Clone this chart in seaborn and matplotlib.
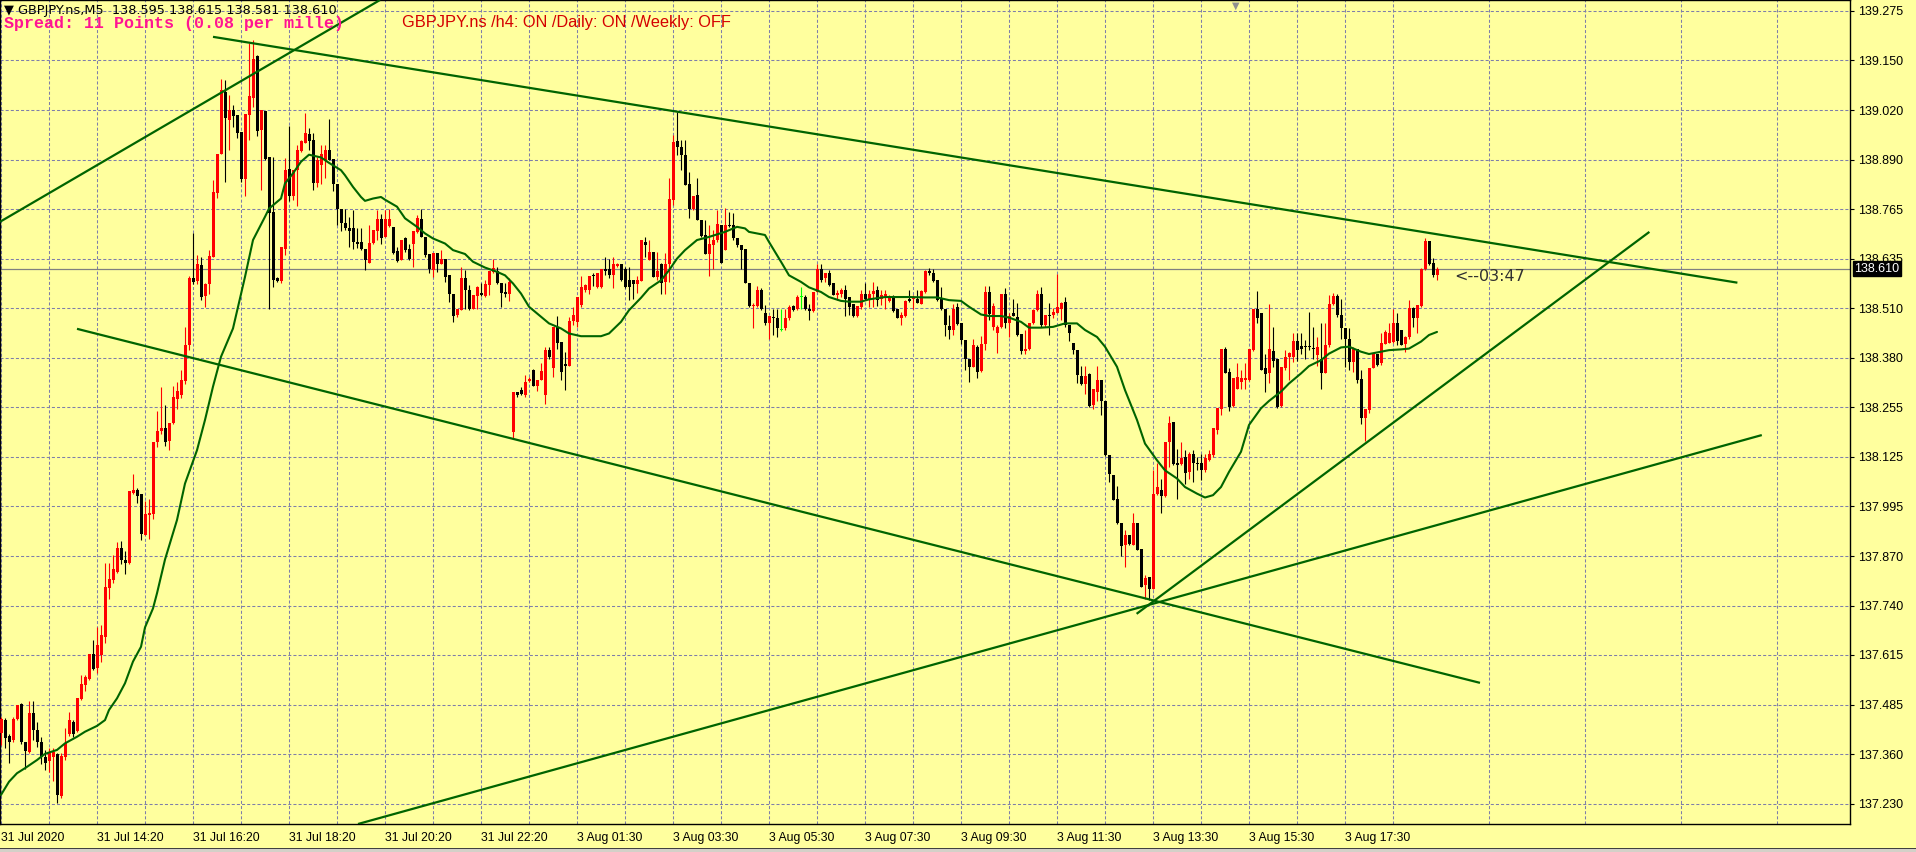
import matplotlib
matplotlib.use("Agg")
import matplotlib.pyplot as plt
from matplotlib.patches import Rectangle
import seaborn as sns
import pandas as pd
import numpy as np

# GBPJPY M5 candles (index 0 = 31 Jul 12:20)
opens = [
    137.412, 137.446, 137.405, 137.395, 137.450, 137.487, 137.390, 137.364, 137.463, 137.420,
    137.390, 137.350, 137.341, 137.352, 137.358, 137.250, 137.350, 137.410, 137.442, 137.419,
    137.500, 137.537, 137.553, 137.616, 137.580, 137.614, 137.659, 137.786, 137.807, 137.829,
    137.889, 137.860, 137.850, 138.032, 138.039, 138.028, 137.924, 137.974, 137.977, 138.162,
    138.192, 138.199, 138.166, 138.213, 138.273, 138.284, 138.321, 138.413, 138.587, 138.578,
    138.619, 138.540, 138.570, 138.641, 138.806, 138.907, 139.066, 138.993, 139.019, 139.006,
    138.963, 138.842, 139.006, 139.050, 139.158, 138.967, 139.017, 138.899, 138.757, 138.585,
    138.579, 138.662, 138.866, 138.798, 138.864, 138.914, 138.935, 138.957, 138.942, 138.830,
    138.877, 138.890, 138.916, 138.892, 138.828, 138.764, 138.728, 138.714, 138.714, 138.679,
    138.678, 138.662, 138.625, 138.677, 138.708, 138.739, 138.692, 138.720, 138.718, 138.656,
    138.632, 138.688, 138.662, 138.675, 138.705, 138.737, 138.692, 138.649, 138.606, 138.651,
    138.623, 138.635, 138.593, 138.546, 138.490, 138.503, 138.585, 138.556, 138.507, 138.539,
    138.548, 138.539, 138.568, 138.602, 138.605, 138.574, 138.550, 138.546, 138.189, 138.292,
    138.297, 138.284, 138.321, 138.348, 138.307, 138.324, 138.285, 138.400, 138.353, 138.460,
    138.421, 138.363, 138.358, 138.475, 138.473, 138.516, 138.555, 138.555, 138.595, 138.563,
    138.563, 138.608, 138.608, 138.593, 138.617, 138.622, 138.608, 138.580, 138.582, 138.570,
    138.579, 138.679, 138.632, 138.654, 138.589, 138.622, 138.576, 138.622, 138.787, 138.939,
    138.923, 138.903, 138.828, 138.763, 138.800, 138.735, 138.697, 138.649, 138.671, 138.684,
    138.722, 138.659, 138.724, 138.722, 138.688, 138.671, 138.662, 138.572, 138.513, 138.513,
    138.555, 138.496, 138.469, 138.486, 138.482, 138.453, 138.456, 138.482, 138.513, 138.505,
    138.536, 138.537, 138.507, 138.501, 138.550, 138.608, 138.585, 138.598, 138.572, 138.542,
    138.546, 138.555, 138.536, 138.520, 138.488, 138.512, 138.546, 138.531, 138.546, 138.555,
    138.531, 138.539, 138.527, 138.537, 138.505, 138.484, 138.488, 138.531, 138.531, 138.531,
    138.520, 138.550, 138.605, 138.598, 138.580, 138.531, 138.505, 138.462, 138.453, 138.510,
    138.470, 138.426, 138.378, 138.357, 138.408, 138.346, 138.417, 138.550, 138.460, 138.445,
    138.460, 138.546, 138.469, 138.496, 138.486, 138.441, 138.398, 138.404, 138.469, 138.503,
    138.545, 138.465, 138.490, 138.490, 138.495, 138.507, 138.525, 138.465, 138.419, 138.400,
    138.333, 138.312, 138.338, 138.258, 138.293, 138.323, 138.269, 138.129, 138.078, 138.017,
    137.953, 137.897, 137.923, 137.897, 137.953, 137.887, 137.794, 137.815, 137.785, 138.030,
    138.039, 138.023, 138.164, 138.215, 138.109, 138.106, 138.125, 138.086, 138.133, 138.109,
    138.108, 138.092, 138.116, 138.129, 138.194, 138.247, 138.404, 138.344, 138.256, 138.301,
    138.319, 138.323, 138.323, 138.400, 138.505, 138.495, 138.355, 138.340, 138.398, 138.378,
    138.256, 138.353, 138.383, 138.383, 138.424, 138.410, 138.410, 138.409, 138.404, 138.387,
    138.378, 138.342, 138.413, 138.519, 138.539, 138.490, 138.456, 138.430, 138.370, 138.402,
    138.325, 138.224, 138.245, 138.355, 138.390, 138.366, 138.417, 138.419, 138.422, 138.469,
    138.452, 138.417, 138.433, 138.508, 138.482, 138.514, 138.608, 138.682, 138.624, 138.595,
]
highs = [
    137.455, 137.452, 137.410, 137.455, 137.485, 137.490, 137.390, 137.495, 137.495, 137.440,
    137.403, 137.370, 137.373, 137.373, 137.360, 137.360, 137.425, 137.467, 137.446, 137.504,
    137.563, 137.563, 137.616, 137.653, 137.687, 137.690, 137.852, 137.852, 137.872, 137.906,
    137.908, 137.883, 138.037, 138.080, 138.044, 138.028, 138.012, 138.015, 138.164, 138.244,
    138.306, 138.258, 138.213, 138.308, 138.319, 138.349, 138.460, 138.590, 138.703, 138.645,
    138.640, 138.572, 138.658, 138.840, 138.907, 139.100, 139.096, 139.058, 139.032, 139.006,
    138.963, 139.009, 139.191, 139.199, 139.161, 139.019, 139.017, 138.899, 138.899, 138.588,
    138.665, 138.895, 138.978, 138.864, 138.929, 138.942, 139.012, 138.974, 138.959, 138.898,
    138.929, 138.929, 138.995, 138.892, 138.828, 138.764, 138.763, 138.744, 138.761, 138.714,
    138.715, 138.662, 138.722, 138.711, 138.761, 138.752, 138.761, 138.765, 138.718, 138.666,
    138.684, 138.692, 138.675, 138.708, 138.748, 138.763, 138.692, 138.649, 138.651, 138.651,
    138.658, 138.635, 138.593, 138.546, 138.507, 138.615, 138.606, 138.567, 138.542, 138.565,
    138.572, 138.580, 138.605, 138.634, 138.615, 138.574, 138.572, 138.585, 138.292, 138.292,
    138.305, 138.335, 138.331, 138.352, 138.324, 138.367, 138.408, 138.408, 138.460, 138.488,
    138.421, 138.395, 138.486, 138.512, 138.537, 138.591, 138.570, 138.591, 138.598, 138.598,
    138.608, 138.641, 138.634, 138.641, 138.625, 138.622, 138.615, 138.615, 138.582, 138.591,
    138.684, 138.692, 138.684, 138.654, 138.654, 138.625, 138.651, 138.843, 138.954, 139.015,
    138.942, 138.942, 138.860, 138.797, 138.845, 138.735, 138.735, 138.722, 138.711, 138.761,
    138.722, 138.767, 138.757, 138.754, 138.688, 138.671, 138.662, 138.572, 138.522, 138.565,
    138.559, 138.516, 138.488, 138.507, 138.507, 138.507, 138.507, 138.516, 138.516, 138.542,
    138.563, 138.542, 138.520, 138.550, 138.622, 138.622, 138.599, 138.606, 138.572, 138.556,
    138.559, 138.568, 138.536, 138.520, 138.513, 138.555, 138.574, 138.555, 138.576, 138.565,
    138.555, 138.555, 138.542, 138.542, 138.507, 138.499, 138.529, 138.555, 138.542, 138.555,
    138.556, 138.606, 138.611, 138.608, 138.580, 138.563, 138.507, 138.490, 138.520, 138.522,
    138.470, 138.426, 138.378, 138.430, 138.413, 138.436, 138.565, 138.565, 138.522, 138.464,
    138.546, 138.559, 138.496, 138.533, 138.522, 138.441, 138.453, 138.469, 138.505, 138.555,
    138.563, 138.490, 138.522, 138.508, 138.596, 138.525, 138.538, 138.465, 138.419, 138.400,
    138.359, 138.359, 138.342, 138.299, 138.359, 138.323, 138.269, 138.129, 138.078, 138.049,
    137.953, 137.937, 137.923, 137.979, 137.955, 137.887, 137.820, 137.815, 138.092, 138.108,
    138.069, 138.164, 138.230, 138.215, 138.146, 138.164, 138.142, 138.138, 138.142, 138.125,
    138.133, 138.133, 138.142, 138.198, 138.250, 138.404, 138.407, 138.353, 138.327, 138.367,
    138.348, 138.366, 138.402, 138.505, 138.553, 138.495, 138.390, 138.519, 138.460, 138.378,
    138.357, 138.400, 138.396, 138.443, 138.443, 138.445, 138.426, 138.499, 138.460, 138.433,
    138.469, 138.469, 138.542, 138.548, 138.544, 138.533, 138.456, 138.456, 138.409, 138.402,
    138.350, 138.247, 138.355, 138.393, 138.390, 138.443, 138.453, 138.471, 138.505, 138.495,
    138.452, 138.436, 138.529, 138.512, 138.516, 138.611, 138.688, 138.682, 138.637, 138.615,
]
lows = [
    137.382, 137.373, 137.336, 137.390, 137.447, 137.385, 137.320, 137.360, 137.395, 137.377,
    137.334, 137.317, 137.313, 137.290, 137.233, 137.244, 137.343, 137.405, 137.403, 137.416,
    137.498, 137.520, 137.550, 137.575, 137.567, 137.597, 137.644, 137.757, 137.800, 137.826,
    137.848, 137.824, 137.848, 138.030, 138.007, 137.910, 137.923, 137.913, 137.964, 138.151,
    138.185, 138.153, 138.142, 138.210, 138.249, 138.276, 138.313, 138.400, 138.570, 138.570,
    138.530, 138.510, 138.546, 138.640, 138.793, 138.907, 138.834, 138.916, 138.976, 138.946,
    138.834, 138.797, 138.942, 139.028, 138.952, 138.813, 138.890, 138.505, 138.562, 138.577,
    138.574, 138.645, 138.785, 138.787, 138.772, 138.911, 138.933, 138.916, 138.813, 138.820,
    138.828, 138.843, 138.890, 138.811, 138.724, 138.708, 138.709, 138.665, 138.662, 138.664,
    138.658, 138.606, 138.625, 138.673, 138.684, 138.675, 138.692, 138.718, 138.649, 138.628,
    138.632, 138.654, 138.632, 138.615, 138.701, 138.692, 138.641, 138.598, 138.589, 138.602,
    138.622, 138.576, 138.525, 138.473, 138.486, 138.503, 138.507, 138.503, 138.505, 138.507,
    138.539, 138.537, 138.542, 138.598, 138.570, 138.512, 138.536, 138.527, 138.172, 138.278,
    138.284, 138.279, 138.318, 138.307, 138.295, 138.322, 138.262, 138.378, 138.331, 138.404,
    138.324, 138.297, 138.358, 138.464, 138.460, 138.512, 138.550, 138.546, 138.565, 138.561,
    138.561, 138.593, 138.585, 138.559, 138.615, 138.579, 138.561, 138.529, 138.531, 138.548,
    138.579, 138.641, 138.632, 138.589, 138.580, 138.546, 138.546, 138.576, 138.774, 138.903,
    138.864, 138.826, 138.742, 138.761, 138.735, 138.692, 138.649, 138.591, 138.610, 138.679,
    138.625, 138.658, 138.718, 138.684, 138.666, 138.610, 138.572, 138.512, 138.456, 138.512,
    138.503, 138.464, 138.430, 138.439, 138.434, 138.450, 138.451, 138.477, 138.501, 138.503,
    138.505, 138.503, 138.477, 138.499, 138.550, 138.576, 138.576, 138.566, 138.542, 138.529,
    138.537, 138.488, 138.490, 138.486, 138.486, 138.505, 138.529, 138.512, 138.512, 138.513,
    138.516, 138.505, 138.525, 138.499, 138.482, 138.464, 138.486, 138.525, 138.505, 138.522,
    138.518, 138.548, 138.593, 138.576, 138.527, 138.503, 138.436, 138.430, 138.439, 138.464,
    138.415, 138.348, 138.318, 138.357, 138.327, 138.344, 138.400, 138.477, 138.453, 138.393,
    138.456, 138.456, 138.434, 138.488, 138.436, 138.390, 138.391, 138.400, 138.467, 138.501,
    138.460, 138.460, 138.439, 138.482, 138.495, 138.477, 138.460, 138.424, 138.390, 138.314,
    138.310, 138.288, 138.254, 138.247, 138.270, 138.232, 138.127, 138.060, 138.013, 137.951,
    137.869, 137.841, 137.897, 137.897, 137.884, 137.788, 137.759, 137.755, 137.783, 138.026,
    137.979, 138.022, 138.099, 138.103, 138.017, 138.103, 138.056, 138.069, 138.060, 138.090,
    138.065, 138.086, 138.115, 138.125, 138.183, 138.232, 138.342, 138.244, 138.254, 138.299,
    138.299, 138.301, 138.321, 138.398, 138.469, 138.348, 138.293, 138.314, 138.357, 138.252,
    138.254, 138.348, 138.323, 138.370, 138.373, 138.391, 138.376, 138.400, 138.376, 138.359,
    138.301, 138.342, 138.409, 138.516, 138.486, 138.430, 138.357, 138.348, 138.344, 138.314,
    138.209, 138.166, 138.237, 138.353, 138.359, 138.361, 138.416, 138.419, 138.419, 138.413,
    138.413, 138.396, 138.430, 138.460, 138.445, 138.512, 138.606, 138.619, 138.589, 138.581,
]
closes = [
    137.450, 137.399, 137.390, 137.450, 137.484, 137.390, 137.367, 137.463, 137.420, 137.390,
    137.350, 137.336, 137.360, 137.364, 137.253, 137.354, 137.388, 137.446, 137.410, 137.504,
    137.540, 137.558, 137.616, 137.578, 137.640, 137.665, 137.790, 137.811, 137.835, 137.890,
    137.859, 137.852, 138.037, 138.039, 138.025, 137.926, 137.977, 137.980, 138.164, 138.192,
    138.199, 138.164, 138.213, 138.280, 138.295, 138.323, 138.413, 138.585, 138.576, 138.622,
    138.537, 138.570, 138.642, 138.807, 138.907, 139.072, 138.998, 139.019, 139.004, 138.961,
    138.842, 139.009, 139.055, 139.152, 138.966, 139.019, 138.894, 138.754, 138.580, 138.579,
    138.665, 138.864, 138.798, 138.864, 138.916, 138.940, 138.959, 138.940, 138.832, 138.890,
    138.907, 138.916, 138.890, 138.828, 138.764, 138.728, 138.714, 138.708, 138.679, 138.673,
    138.662, 138.632, 138.677, 138.711, 138.737, 138.688, 138.737, 138.737, 138.651, 138.630,
    138.684, 138.658, 138.634, 138.708, 138.742, 138.692, 138.645, 138.610, 138.651, 138.623,
    138.635, 138.589, 138.546, 138.488, 138.507, 138.585, 138.555, 138.507, 138.542, 138.563,
    138.542, 138.570, 138.605, 138.611, 138.572, 138.548, 138.546, 138.576, 138.292, 138.285,
    138.288, 138.318, 138.325, 138.307, 138.324, 138.346, 138.400, 138.383, 138.460, 138.419,
    138.344, 138.358, 138.475, 138.490, 138.537, 138.563, 138.568, 138.591, 138.591, 138.598,
    138.608, 138.605, 138.593, 138.622, 138.623, 138.580, 138.563, 138.563, 138.570, 138.580,
    138.684, 138.671, 138.654, 138.589, 138.605, 138.572, 138.622, 138.789, 138.937, 138.923,
    138.903, 138.826, 138.763, 138.797, 138.735, 138.694, 138.649, 138.673, 138.685, 138.725,
    138.625, 138.722, 138.720, 138.688, 138.671, 138.659, 138.572, 138.513, 138.516, 138.555,
    138.505, 138.469, 138.488, 138.482, 138.456, 138.453, 138.482, 138.512, 138.503, 138.536,
    138.536, 138.505, 138.501, 138.550, 138.608, 138.580, 138.599, 138.568, 138.542, 138.548,
    138.555, 138.531, 138.512, 138.488, 138.513, 138.546, 138.531, 138.544, 138.553, 138.529,
    138.542, 138.546, 138.537, 138.501, 138.484, 138.490, 138.527, 138.527, 138.537, 138.522,
    138.553, 138.605, 138.598, 138.579, 138.529, 138.505, 138.464, 138.453, 138.505, 138.467,
    138.426, 138.378, 138.357, 138.413, 138.344, 138.417, 138.550, 138.494, 138.513, 138.460,
    138.544, 138.469, 138.488, 138.488, 138.439, 138.398, 138.402, 138.469, 138.503, 138.544,
    138.465, 138.490, 138.488, 138.499, 138.512, 138.522, 138.465, 138.443, 138.400, 138.336,
    138.312, 138.333, 138.256, 138.299, 138.323, 138.269, 138.129, 138.080, 138.013, 137.953,
    137.894, 137.923, 137.900, 137.955, 137.884, 137.790, 137.813, 137.785, 138.030, 138.047,
    138.023, 138.164, 138.211, 138.106, 138.103, 138.123, 138.082, 138.133, 138.108, 138.106,
    138.090, 138.121, 138.133, 138.198, 138.250, 138.402, 138.342, 138.254, 138.327, 138.331,
    138.327, 138.327, 138.402, 138.505, 138.482, 138.350, 138.338, 138.402, 138.372, 138.254,
    138.357, 138.383, 138.393, 138.424, 138.400, 138.402, 138.407, 138.407, 138.402, 138.409,
    138.342, 138.413, 138.520, 138.539, 138.490, 138.456, 138.430, 138.370, 138.402, 138.323,
    138.224, 138.247, 138.353, 138.392, 138.361, 138.419, 138.447, 138.445, 138.471, 138.424,
    138.413, 138.433, 138.508, 138.482, 138.516, 138.608, 138.682, 138.622, 138.593, 138.610,
]

# moving average line, read at bar indices
ma_k = [0, 2, 4, 6, 9, 11, 14, 16, 19, 21,
        24, 26, 27, 29, 31, 33, 35, 36, 38, 39,
        41, 44, 46, 49, 51, 53, 55, 58, 61, 63,
        66, 67, 70, 71, 73, 75, 77, 80, 82, 85,
        86, 88, 90, 91, 93, 95, 96, 99, 101, 104,
        106, 108, 111, 113, 116, 118, 121, 124, 126, 128,
        130, 132, 135, 137, 140, 142, 145, 147, 150, 152,
        155, 157, 160, 162, 165, 167, 169, 171, 174, 177,
        181, 184, 186, 187, 191, 192, 195, 197, 200, 202,
        205, 207, 210, 212, 215, 217, 221, 224, 227, 231,
        234, 237, 240, 242, 245, 247, 250, 252, 255, 257,
        260, 263, 266, 269, 271, 274, 276, 279, 281, 284,
        286, 289, 291, 294, 296, 299, 301, 303, 305, 307,
        310, 312, 315, 317, 320, 322, 325, 327, 330, 332,
        335, 337, 340, 342, 345, 347, 350, 352, 355, 357,
        359]
ma_vals = [137.253, 137.287, 137.309, 137.322, 137.343, 137.359, 137.369, 137.386, 137.403, 137.416,
           137.431, 137.446, 137.472, 137.502, 137.541, 137.597, 137.635, 137.685, 137.734, 137.773,
           137.860, 137.962, 138.056, 138.142, 138.220, 138.306, 138.383, 138.456, 138.589, 138.684,
           138.744, 138.765, 138.791, 138.830, 138.856, 138.886, 138.904, 138.897, 138.883, 138.864,
           138.851, 138.821, 138.795, 138.785, 138.791, 138.795, 138.788, 138.770, 138.740, 138.718,
           138.701, 138.688, 138.675, 138.658, 138.648, 138.628, 138.613, 138.602, 138.593, 138.572,
           138.546, 138.512, 138.486, 138.469, 138.456, 138.443, 138.436, 138.436, 138.436, 138.443,
           138.473, 138.503, 138.535, 138.559, 138.580, 138.606, 138.636, 138.658, 138.684, 138.692,
           138.705, 138.718, 138.714, 138.705, 138.697, 138.679, 138.628, 138.593, 138.576, 138.562,
           138.550, 138.537, 138.527, 138.525, 138.525, 138.531, 138.537, 138.537, 138.537, 138.536,
           138.536, 138.529, 138.527, 138.512, 138.492, 138.488, 138.488, 138.484, 138.473, 138.458,
           138.458, 138.460, 138.469, 138.469, 138.452, 138.434, 138.409, 138.357, 138.297, 138.220,
           138.159, 138.116, 138.090, 138.069, 138.047, 138.030, 138.020, 138.026, 138.047, 138.086,
           138.138, 138.207, 138.250, 138.269, 138.293, 138.314, 138.340, 138.359, 138.374, 138.391,
           138.407, 138.409, 138.396, 138.390, 138.396, 138.400, 138.402, 138.404, 138.422, 138.439,
           138.447]

# trend lines: (bar index, price) start and end
trend_k = [(-0.25, 94.75), (53.0, 434.1), (19.0, 369.75), (283.9, 412.1), (89.25, 440.2)]
trend_p = [(138.731, 139.303), (139.208, 138.574), (138.455, 137.542), (137.720, 138.705), (137.178, 138.181)]

tick_k = [0, 24, 48, 72, 96, 120, 144, 168, 192, 216, 240, 264, 288, 312, 336]
tick_labels = ["31 Jul 2020", "31 Jul 14:20", "31 Jul 16:20", "31 Jul 18:20", "31 Jul 20:20",
               "31 Jul 22:20", "3 Aug 01:30", "3 Aug 03:30", "3 Aug 05:30", "3 Aug 07:30",
               "3 Aug 09:30", "3 Aug 11:30", "3 Aug 13:30", "3 Aug 15:30", "3 Aug 17:30"]
price_ticks = [139.275, 139.147, 139.019, 138.891, 138.764, 138.636, 138.508, 138.380, 138.253,
               138.125, 137.997, 137.869, 137.741, 137.614, 137.486, 137.358, 137.230]
price_labels = ["139.275", "139.150", "139.020", "138.890", "138.765", "138.635", "138.510", "138.380",
                "138.255", "138.125", "137.995", "137.870", "137.740", "137.615", "137.485", "137.360",
                "137.230"]

BG = "#ffff9e"
GRID = "#7e7eaa"
GREEN = "#006400"
W, H = 1916, 852
P_TOP, P_BOT = 139.303, 137.178

sns.set_style("white")
plt.rcParams["font.family"] = ["Liberation Sans", "DejaVu Sans"]
plt.rcParams["lines.scale_dashes"] = False

fig = plt.figure(figsize=(W / 100, H / 100), dpi=100, facecolor=BG)
ax = fig.add_axes([0, 28 / H, 1850 / W, 824 / H])
ax.set_facecolor(BG)
ax.set_xlim(-0.25, 462.25)
ax.set_ylim(P_BOT, P_TOP)
px = (P_TOP - P_BOT) / 824

df = pd.DataFrame({"open": opens, "high": highs, "low": lows, "close": closes})
df["k"] = np.arange(len(df))
df["color"] = np.where(df.close > df.open, "#ff0000",
                       np.where(df.close < df.open, "#000000", "#00ff00"))

# wicks and bodies
ax.vlines(df.k, df.low, df.high, colors=df.color, linewidth=0.8, zorder=3)
body_lo = np.minimum(df.open, df.close)
body_h = np.maximum((df.close - df.open).abs(), px)
ax.bar(df.k, body_h, bottom=body_lo, width=0.75, color=df.color, linewidth=0, zorder=3)

sns.lineplot(x=ma_k, y=ma_vals, color=GREEN, linewidth=1.5, ax=ax, zorder=4)
for ks, ps in zip(trend_k, trend_p):
    ax.plot(ks, ps, color=GREEN, linewidth=1.6, solid_capstyle="butt", zorder=4)

# current bid line
ax.axhline(closes[-1], color="#808080", linewidth=0.9, zorder=2)

# axes, ticks and grid
ax.set_xticks(tick_k)
ax.set_xticklabels(tick_labels, ha="left", fontsize=8.8)
ax.set_xticks(np.arange(12, 462, 24), minor=True)
ax.yaxis.tick_right()
ax.set_yticks(price_ticks)
ax.set_yticklabels(price_labels, fontsize=9)
ax.tick_params(axis="x", which="major", direction="out", length=3, width=0.8, pad=3, colors="black")
ax.tick_params(axis="x", which="minor", length=0)
ax.tick_params(axis="y", direction="out", length=3, width=0.8, pad=3, colors="black")
ax.grid(True, which="both", color=GRID, linewidth=0.75, linestyle=(0, (2.2, 1.5)))
ax.set_axisbelow(True)
ax.set_xlabel("")
ax.set_ylabel("")
for s in ax.spines.values():
    s.set_color("black")
    s.set_linewidth(1.0)

# last price box
ax.annotate(f"{closes[-1]:.3f}", xy=(1, closes[-1]), xycoords=("axes fraction", "data"),
            xytext=(4, 0), textcoords="offset pixels", ha="left", va="center",
            fontsize=9, color="white", annotation_clip=False, zorder=10,
            bbox=dict(boxstyle="square,pad=0.12", facecolor="black", edgecolor="black"))

# candle timer
ax.text(363.25, 138.589, "<--03:47", fontsize=11.5, color="#303030",
        family="DejaVu Sans", ha="left", va="center", zorder=5)

# header texts
fig.text(4 / W, 1 - 14 / H,
         f"\u25bc GBPJPY.ns,M5  {opens[-1]:.3f} {highs[-1]:.3f} {lows[-1]:.3f} {closes[-1]:.3f}",
         fontsize=9.3, family="DejaVu Sans", color="black", va="baseline", ha="left")
fig.text(4 / W, 1 - 28 / H, "Spread: 11 Points (0.08 per mille)", fontsize=12,
         family="Liberation Mono", weight="bold", color="#ff1493", va="baseline", ha="left")
fig.text(402 / W, 1 - 27 / H, "GBPJPY.ns /h4: ON /Daily: ON /Weekly: OFF", fontsize=11.8,
         color="#d40000", va="baseline", ha="left")
fig.text(1236 / W, 1 - 1 / H, "\u25bc", fontsize=7, color="#909090", family="DejaVu Sans",
         ha="center", va="top")

# window bottom edge
fig.add_artist(Rectangle((0, 0), 1, 3 / H, transform=fig.transFigure,
                         facecolor="#d4d0c8", edgecolor="none"))
fig.add_artist(Rectangle((0, 3 / H), 1, 1.5 / H, transform=fig.transFigure,
                         facecolor="#404040", edgecolor="none"))

fig.savefig("out.png", dpi=100, facecolor=BG)
